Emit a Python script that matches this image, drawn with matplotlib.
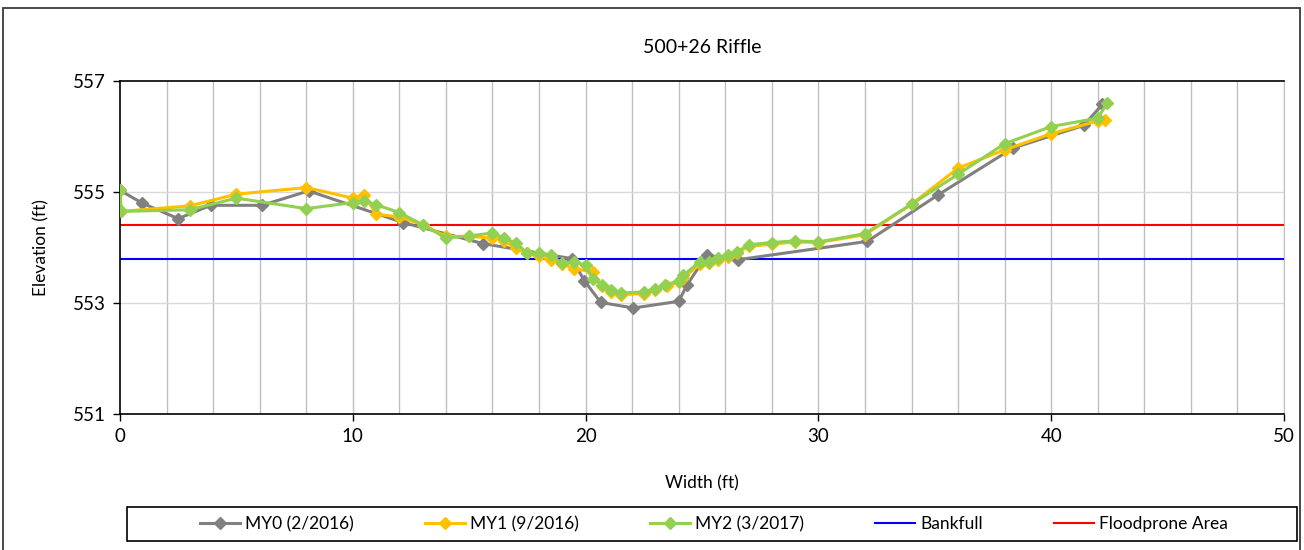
import matplotlib
matplotlib.use("Agg")
import matplotlib.pyplot as plt
from matplotlib.patches import Rectangle
from matplotlib.lines import Line2D

# ------------------------------------------------------------
# Data (station in ft, elevation in ft)
# ------------------------------------------------------------
my0_x = [0.0, 0.95, 2.5, 3.9, 6.1, 8.1, 12.15, 15.6, 19.4, 19.95, 20.65,
         22.05, 24.0, 24.35, 25.2, 26.55, 32.1, 35.15, 38.35, 41.4, 42.2]
my0_y = [555.03, 554.80, 554.52, 554.76, 554.76, 555.02, 554.45, 554.07,
         553.80, 553.40, 553.01, 552.91, 553.03, 553.32, 553.86, 553.78,
         554.11, 554.95, 555.79, 556.20, 556.58]

my1_x = [0.0, 0.05, 3.0, 5.0, 8.0, 10.0, 10.5, 11.0, 12.0, 13.0, 14.0, 15.0,
         16.0, 16.5, 17.0, 17.5, 18.0, 18.5, 19.0, 19.5, 20.3, 20.7, 21.1,
         21.5, 22.5, 23.0, 23.5, 24.0, 24.2, 24.9, 25.3, 25.7, 26.1, 26.5,
         27.0, 28.0, 29.0, 30.0, 32.0, 34.0, 36.0, 38.0, 40.0, 42.0, 42.3]
my1_y = [555.03, 554.65, 554.75, 554.96, 555.08, 554.89, 554.95, 554.60,
         554.55, 554.41, 554.20, 554.20, 554.17, 554.12, 553.99, 553.90,
         553.84, 553.77, 553.70, 553.62, 553.56, 553.30, 553.20, 553.15,
         553.17, 553.23, 553.30, 553.38, 553.45, 553.70, 553.72, 553.78,
         553.83, 553.90, 554.02, 554.06, 554.10, 554.09, 554.23, 554.78,
         555.43, 555.76, 556.05, 556.28, 556.30]

my2_x = [0.0, 0.05, 3.0, 5.0, 8.0, 10.0, 10.5, 11.0, 12.0, 13.0, 14.0, 15.0,
         16.0, 16.5, 17.0, 17.5, 18.0, 18.5, 19.0, 19.5, 20.0, 20.3, 20.7,
         21.1, 21.5, 22.5, 23.0, 23.4, 24.0, 24.2, 24.9, 25.3, 25.7, 26.1,
         26.5, 27.0, 28.0, 29.0, 30.0, 32.0, 34.0, 36.0, 38.0, 40.0, 42.0,
         42.4]
my2_y = [555.03, 554.65, 554.68, 554.89, 554.70, 554.81, 554.84, 554.77,
         554.63, 554.41, 554.17, 554.21, 554.26, 554.17, 554.08, 553.90,
         553.90, 553.86, 553.72, 553.74, 553.68, 553.44, 553.33, 553.24,
         553.18, 553.20, 553.26, 553.32, 553.40, 553.50, 553.74, 553.74,
         553.81, 553.86, 553.92, 554.05, 554.09, 554.12, 554.10, 554.25,
         554.78, 555.32, 555.87, 556.18, 556.33, 556.60]

bankfull_elev = 553.79
floodprone_elev = 554.41

series_labels = ["MY0 (2/2016)", "MY1 (9/2016)", "MY2 (3/2017)"]
title = "500+26 Riffle"

# ------------------------------------------------------------
# Styling
# ------------------------------------------------------------
plt.rcParams["font.family"] = ["Lato", "DejaVu Sans"]
plt.rcParams["font.size"] = 12.5

W, H = 1304, 550
fig = plt.figure(figsize=(W / 100, H / 100), dpi=100)

# outer chart border
fig.patches.append(Rectangle((3 / W, -0.1), 1297 / W, 1.1 - 8 / H,
                             transform=fig.transFigure, fill=False,
                             edgecolor="#3a3a3a", linewidth=1.3))
# legend box
fig.patches.append(Rectangle((127 / W, 9 / H), 1170 / W, 34 / H,
                             transform=fig.transFigure, fill=False,
                             edgecolor="black", linewidth=1.2))

ax = fig.add_axes([120 / W, 1 - 414 / H, 1164 / W, 333 / H])

ax.set_xlim(0, 50)
ax.set_ylim(551, 557)
ax.set_xticks(range(0, 51, 10))
ax.set_yticks([551, 553, 555, 557])

# gridlines
for gx in range(2, 51, 2):
    ax.axvline(gx, color="#BFBFBF", linewidth=1.0, zorder=0)
for gy in [553, 555]:
    ax.axhline(gy, color="#D9D9D9", linewidth=1.0, zorder=0)

ax.axhline(bankfull_elev, color="#0000FF", linewidth=1.5, zorder=1)
ax.axhline(floodprone_elev, color="#FF0000", linewidth=1.5, zorder=1)

ax.plot(my0_x, my0_y, color="#808080", marker="D", markersize=6,
        linewidth=2.2, zorder=2)
ax.plot(my1_x, my1_y, color="#FFC000", marker="D", markersize=6,
        linewidth=2.2, zorder=3)
ax.plot(my2_x, my2_y, color="#92D050", marker="D", markersize=6,
        linewidth=2.2, zorder=4)

for side in ["left", "bottom", "top"]:
    ax.spines[side].set_color("black")
    ax.spines[side].set_linewidth(1.2)
ax.spines["right"].set_color("#BFBFBF")

ax.tick_params(axis="both", which="major", direction="out", length=5,
               width=1, colors="black", labelsize=13.5, pad=5)

ax.set_xlabel("Width (ft)", fontsize=12.5, labelpad=22)
ax.set_ylabel("Elevation (ft)", fontsize=12.5, labelpad=17)
ax.set_title(title, fontsize=14, pad=20)

# legend under the plot
handles = [
    Line2D([], [], color="#808080", marker="D", markersize=6, linewidth=2.2),
    Line2D([], [], color="#FFC000", marker="D", markersize=6, linewidth=2.2),
    Line2D([], [], color="#92D050", marker="D", markersize=6, linewidth=2.2),
    Line2D([], [], color="#0000FF", linewidth=1.5),
    Line2D([], [], color="#FF0000", linewidth=1.5),
]
labels = series_labels + ["Bankfull", "Floodprone Area"]
fig.legend(handles, labels, loc="center", ncol=5,
           bbox_to_anchor=(714 / W, 26 / H), frameon=False,
           fontsize=12.5, numpoints=1, handlelength=2.3,
           handletextpad=0.3, columnspacing=4.1, borderaxespad=0)

fig.savefig("out.png", dpi=100)
